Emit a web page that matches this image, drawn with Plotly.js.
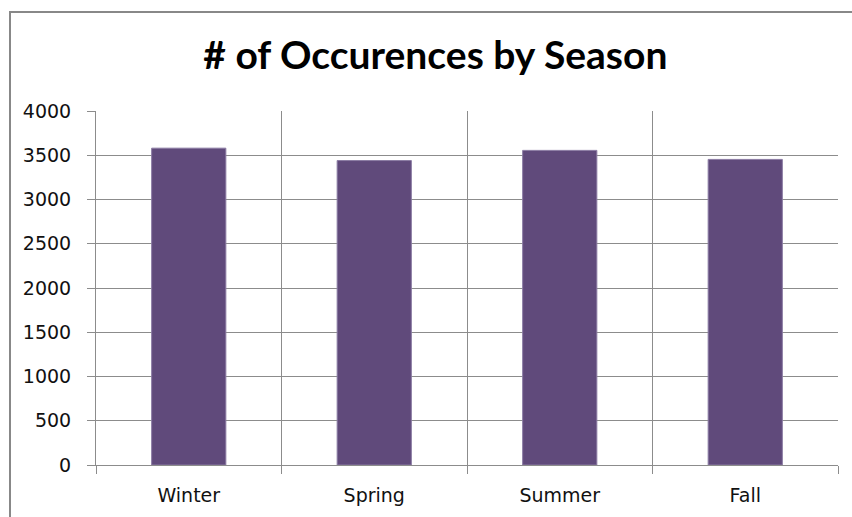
<!DOCTYPE html>
<html>
<head>
<meta charset="utf-8">
<script src="https://cdn.plot.ly/plotly-3.0.1.min.js"></script>
<style>
html,body{margin:0;padding:0;background:#fff;}
#chart{width:852px;height:517px;}
</style>
</head>
<body>
<div id="chart"></div>
<script>
var seasons = ["Winter", "Spring", "Summer", "Fall"];
var occurrences = [3580, 3440, 3555, 3453];
var yTickValues = [0, 500, 1000, 1500, 2000, 2500, 3000, 3500, 4000];

var trace = {
  type: "bar",
  x: seasons,
  y: occurrences,
  marker: {color: "#604A7B", line: {color: "#8B7BA3", width: 1}},
  hoverinfo: "x+y"
};

var gridCol = "#8c8c8c";
var tickFont = {family: "'DejaVu Sans', sans-serif", size: 19, color: "#111111"};
var layout = {
  width: 852,
  height: 517,
  margin: {l: 96, r: 14, t: 111, b: 52},
  paper_bgcolor: "#ffffff",
  plot_bgcolor: "#ffffff",
  showlegend: false,
  bargap: 0.6,
  title: {
    text: "<b># of Occurences by Season</b>",
    font: {family: "Lato, 'Open Sans', sans-serif", size: 39, color: "#000000"},
    xref: "container", x: 0.511, xanchor: "center",
    yref: "container", y: 0.892, yanchor: "middle"
  },
  font: tickFont,
  xaxis: {
    type: "category",
    showgrid: true,
    gridcolor: gridCol,
    gridwidth: 1,
    tickson: "boundaries",
    ticks: "outside",
    ticklen: 8,
    tickcolor: gridCol,
    tickwidth: 1,
    showline: true,
    linecolor: gridCol,
    linewidth: 1,
    zeroline: false,
    ticklabelstandoff: 13,
    tickfont: tickFont,
    fixedrange: true
  },
  yaxis: {
    range: [0, 4000],
    tickvals: yTickValues,
    ticktext: yTickValues.map(String),
    showgrid: true,
    gridcolor: gridCol,
    gridwidth: 1,
    ticks: "outside",
    ticklen: 8,
    tickcolor: gridCol,
    tickwidth: 1,
    showline: true,
    linecolor: gridCol,
    linewidth: 1,
    zeroline: false,
    ticklabelstandoff: 12,
    tickfont: tickFont,
    fixedrange: true
  },
  shapes: [{
    type: "path",
    xref: "paper", yref: "paper",
    path: "M -0.1159,-0.3 L -0.1159,1.2797 L 1.3,1.2797",
    line: {color: "#888888", width: 2}
  }]
};

Plotly.newPlot("chart", [trace], layout, {displayModeBar: false, staticPlot: true});
</script>
</body>
</html>
